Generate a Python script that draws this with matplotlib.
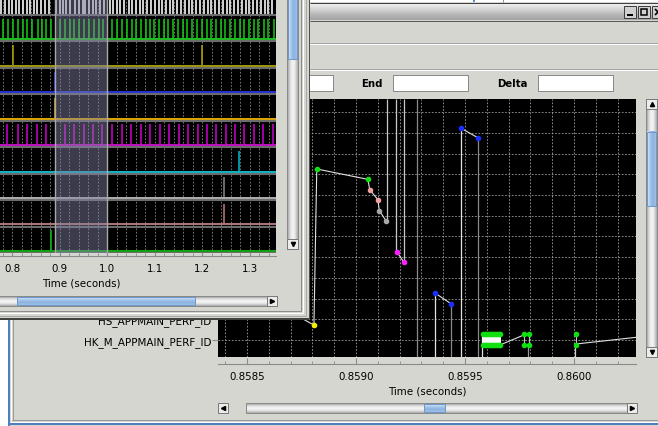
#!/usr/bin/env python3
import numpy as np
import matplotlib
matplotlib.use('Agg')
import matplotlib.pyplot as plt
from matplotlib.patches import Rectangle
from matplotlib.colors import LinearSegmentedColormap
from matplotlib.ticker import MultipleLocator, FixedLocator

W, H = 658, 427
GUI = '#d6d6d1'
GRID = '#a0a0a0'
PX = 0.72  # one pixel in points

# ---------------- back window data (zoomed, seconds) ----------------
back_rows = ['HK_M_APPMAIN_PERF_ID', 'HS_APPMAIN_PERF_ID',
             '', '', '', '', '', '', '', '', '', '']
back_major = [0.8585, 0.8590, 0.8595, 0.8600]

# entry/exit chain: time, level, marker colour
chain_t = [0.858700, 0.858807, 0.858820, 0.859054, 0.859063, 0.859100, 0.859107, 0.859138]
chain_y = [1.35, 0.72, 8.26, 7.76, 7.26, 6.78, 6.25, 5.75]
chain_c = ['none', '#f0f000', '#10e010', '#10e010', '#f0a0a0', '#f0a0a0', '#a8a8a8', '#a8a8a8']

mag_t = [0.859188, 0.859220]
mag_y = [4.25, 3.75]
blue1_t = [0.859362, 0.859436]
blue1_y = [2.27, 1.75]
blue2_t = [0.859480, 0.859560]
blue2_y = [10.24, 9.76]

# long vertical traces
up_t = [0.859140, 0.859183, 0.859222]
up_y = [5.75, 4.25, 3.75]
full_t = [0.859280]
down_t = [0.859362, 0.859436, 0.859482, 0.859560, 0.859578, 0.859789, 0.860005]
down_y = [2.27, 1.75, 10.24, 9.76, 0.27, -0.24, -0.24]
down_c = ['#e0e0e0', '#8a8a8a', '#e0e0e0', '#8a8a8a', '#e0e0e0', '#9a9a9a', '#d0d0d0']

# HK_M burst
burst_t = [0.859582, 0.859590, 0.859598, 0.859606, 0.859614, 0.859622,
           0.859630, 0.859638, 0.859646, 0.859654, 0.859662]
hk_t = [0.859771, 0.859792, 0.860011]
hk_hi, hk_lo = 0.27, -0.24
tail1_t = [0.859665, 0.859771]
tail1_y = [-0.22, 0.25]
tail2_t = [0.860011, 0.860284]
tail2_y = [-0.19, 0.13]

# ---------------- front window data (seconds) ----------------
front_major = [0.8, 0.9, 1.0, 1.1, 1.2, 1.3]
shade = (0.890, 1.000)
white_t = [0.777, 0.785, 0.793, 0.800, 0.807, 0.814, 0.823, 0.830, 0.838, 0.846,
           0.853, 0.861, 0.869, 0.877, 0.893, 0.901, 0.906, 0.914, 0.921, 0.931,
           0.940, 0.948, 0.953, 0.961, 0.970, 0.977, 0.985, 0.994, 1.005, 1.012,
           1.020, 1.027, 1.036, 1.045, 1.053, 1.060, 1.068, 1.076, 1.084, 1.092,
           1.100, 1.108, 1.116, 1.124, 1.131, 1.139, 1.147, 1.155, 1.163, 1.171,
           1.179, 1.187, 1.195, 1.203, 1.211, 1.219, 1.227, 1.235, 1.243, 1.251,
           1.259, 1.267, 1.275, 1.283, 1.291, 1.299, 1.307, 1.315, 1.323, 1.331,
           1.339, 1.347]
green_t = [0.781, 0.792, 0.802, 0.813, 0.822, 0.832, 0.842, 0.854, 0.862, 0.872,
           0.882, 0.901, 0.911, 0.921, 0.930, 0.940, 0.952, 0.961, 0.971, 0.982,
           0.990, 1.010, 1.020, 1.031, 1.041, 1.051, 1.060, 1.072, 1.082, 1.090,
           1.099, 1.109, 1.120, 1.128, 1.139, 1.149, 1.159, 1.168, 1.179, 1.189,
           1.199, 1.209, 1.218, 1.229, 1.239, 1.248, 1.259, 1.269, 1.279, 1.288,
           1.299, 1.309, 1.318, 1.329, 1.339, 1.350]
yellow_t = [0.802, 1.200]
blue_t = [0.890]
orange_t = [0.890]
magenta_t = [0.789, 0.811, 0.830, 0.853, 0.872, 0.910, 0.930, 0.950, 0.969, 0.988,
             1.009, 1.030, 1.050, 1.070, 1.089, 1.110, 1.130, 1.150, 1.169, 1.190,
             1.209, 1.229, 1.249, 1.269, 1.288, 1.309, 1.328, 1.348]
cyan_t = [1.277]
grey_t = [1.246]
pink_t = [1.246]
green2_t = [0.881]

front_rows = [white_t, green_t, yellow_t, blue_t, orange_t, magenta_t,
              cyan_t, grey_t, pink_t, green2_t]
spike_c = ['#e4e4e4', '#14cc14', '#b8a800', '#2a3cff', '#f0b000', '#d000d0',
           '#00c0d0', '#8a8a8a', '#c07c7c', '#10c010']
base_c = [None, '#20c020', '#a09a10', '#2434d8', '#e0a800', '#c010c0',
          '#10b8c8', '#b0b0b0', '#b07878', '#10a810']


fig = plt.figure(figsize=(W / 100, H / 100), dpi=100, facecolor=GUI)


def px_axes(l, t, w, h, z):
    return fig.add_axes([l / W, 1 - (t + h) / H, w / W, h / H], zorder=z)


def overlay(z):
    a = fig.add_axes([0, 0, 1, 1], zorder=z)
    a.set_xlim(0, W)
    a.set_ylim(H, 0)
    a.axis('off')
    return a


def rect(a, x, y, w, h, fc, ec='none', lw=0.0, z=1):
    a.add_patch(Rectangle((x, y), w, h, facecolor=fc, edgecolor=ec, linewidth=lw, zorder=z))


def grad(a, x0, x1, y0, y1, cols, vertical=True, z=1):
    cmap = LinearSegmentedColormap.from_list('g', cols)
    g = np.linspace(0, 1, 64)
    img = g[:, None] if vertical else g[None, :]
    a.imshow(img, cmap=cmap, extent=(x0, x1, y1, y0), aspect='auto',
             interpolation='bilinear', zorder=z)


def hline(a, x0, x1, y, c, lw=1, z=2):
    a.plot([x0, x1], [y, y], color=c, lw=lw * PX, zorder=z, solid_capstyle='butt')


def vline(a, x, y0, y1, c, lw=1, z=2):
    a.plot([x, x], [y0, y1], color=c, lw=lw * PX, zorder=z, solid_capstyle='butt')


TRACK = ['#8c8c8c', '#d8d8d8', '#f6f6f6', '#e6e6e6', '#a8a8a8']
THUMB = ['#dceaf8', '#a8c8ec', '#8cb2de', '#9cc0e6']


def button(a, x, y, w, h, mark):
    rect(a, x, y, w, h, '#ececea', '#7a7a7a', PX, z=3)
    a.plot(x + w / 2, y + h / 2, marker=mark, ms=3, color='black', zorder=4)


def hscroll(a, x0, x1, y0, y1, t0, t1):
    grad(a, x0, x1, y0, y1, TRACK, True, z=2)
    rect(a, x0, y0, x1 - x0, y1 - y0, 'none', '#8a8a8a', PX, z=3)
    grad(a, t0, t1, y0 + 1, y1 - 1, THUMB, True, z=3)
    rect(a, t0, y0 + 1, t1 - t0, y1 - y0 - 2, 'none', '#6e98c8', PX, z=3)
    button(a, x1 - 10, y0, 10, y1 - y0, '>')


def vscroll(a, x0, x1, y0, y1, t0, t1, top=True):
    grad(a, x0, x1, y0, y1, TRACK, False, z=2)
    rect(a, x0, y0, x1 - x0, y1 - y0, 'none', '#8a8a8a', PX, z=3)
    grad(a, x0 + 1, x1 - 1, t0, t1, THUMB, False, z=3)
    rect(a, x0 + 1, t0, x1 - x0 - 2, t1 - t0, 'none', '#6e98c8', PX, z=3)
    if top:
        button(a, x0, y0, x1 - x0, 10, '^')
    button(a, x0, y1 - 10, x1 - x0, 10, 'v')


# ---------------- back window chrome ----------------
bg = overlay(0)
rect(bg, 0, 319, 8, 108, 'white')
vline(bg, 8.5, 0, 427, '#4f7fbf', 2)
vline(bg, 10.5, 0, 422, 'white', 1)
vline(bg, 12.5, 0, 421, '#9a9a9a', 1)
hline(bg, 8, W, 424.5, '#4f7fbf', 2)
hline(bg, 10, W, 422.5, 'white', 1)
hline(bg, 12, W, 420.5, '#9a9a9a', 1)
rect(bg, 310, 0, 348, 3, 'white')
vline(bg, 474, 0, 3, '#5a8ad0', 2)
vline(bg, 503, 0, 3, '#909090', 1)
hline(bg, 310, W, 3.5, '#404040', 1)
grad(bg, 310, W, 4, 21, ['#f2f2f2', '#d8d8d8', '#b8b8b8', '#a4a4a4'], True, z=1)
hline(bg, 310, W, 21.5, '#5a5a5a', 1)
for bx, glyph in [(624, '_'), (638, 's'), (652, 'x')]:
    rect(bg, bx, 7, 12, 12, '#d0d0d0', '#404040', PX, z=3)
    if glyph == '_':
        hline(bg, bx + 3, bx + 9, 15.5, 'black', 2, z=4)
    elif glyph == 's':
        rect(bg, bx + 3, 10, 6, 6, 'none', 'black', 1.5 * PX, z=4)
    else:
        bg.plot(bx + 6, 13, marker='x', ms=4, color='black', mew=1.2, zorder=4)
hline(bg, 310, W, 43.5, '#a4a4a4', 1)
hline(bg, 310, W, 44.5, 'white', 1)
hline(bg, 310, W, 69.5, '#a4a4a4', 1)
hline(bg, 310, W, 70.5, 'white', 1)
for x0, x1 in [(300, 333), (393, 468), (538, 613)]:
    rect(bg, x0, 76, x1 - x0, 16, 'white', '#8a8a8a', PX, z=2)
bg.text(372, 84, 'End', fontsize=7.3, fontweight='bold', ha='center', va='center')
bg.text(512, 84, 'Delta', fontsize=7.3, fontweight='bold', ha='center', va='center')
vscroll(bg, 646, 657, 100, 358, 133, 207)
button(bg, 218, 404, 10, 10, '<')
hscroll(bg, 246, 637, 404, 414, 424, 445)

# ---------------- back plot ----------------
ax = px_axes(218, 100, 418, 258, 1)
ax.set_facecolor('black')
ax.set_xlim(0.858367, 0.860284)
ax.set_ylim(-0.82, 11.64)
for s in ['top', 'right', 'left']:
    ax.spines[s].set_visible(False)
ax.spines['bottom'].set_position(('outward', 5))
ax.spines['bottom'].set_color('#8a8a8a')
ax.xaxis.set_major_locator(FixedLocator(back_major))
ax.xaxis.set_minor_locator(MultipleLocator(0.0001))
ax.set_xticklabels(['%.4f' % v for v in back_major])
ax.tick_params(axis='x', which='major', direction='in', length=4, color='#8a8a8a',
               labelsize=7.4, pad=5)
ax.tick_params(axis='x', which='minor', direction='in', length=2, color='#8a8a8a')
ax.set_yticks(range(len(back_rows)))
ax.set_yticklabels(back_rows)
ax.tick_params(axis='y', length=4, color='#8a8a8a', labelsize=7.5, pad=1)
ax.set_xlabel('Time (seconds)', fontsize=7.4, labelpad=3)
ax.grid(True, which='both', axis='x', color=GRID, lw=0.6, ls=(0, (2, 2)))
ax.grid(True, which='major', axis='y', color=GRID, lw=0.6, ls=(0, (2, 2)))
ax.set_axisbelow(True)

ax.vlines(up_t, up_y, 11.64, color='#c8c8c8', lw=0.9)
ax.vlines(full_t, -0.82, 11.64, color='#8a8a8a', lw=0.9)
ax.vlines(down_t, -0.82, down_y, colors=down_c, lw=0.9)
ax.plot(chain_t, chain_y, color='#e0e0e0', lw=0.8)
for t, y, c in zip(chain_t, chain_y, chain_c):
    if c != 'none':
        ax.plot(t, y, 'o', color=c, ms=3.0, zorder=4)
for ts, ys, c in [(mag_t, mag_y, '#ff20ff'), (blue1_t, blue1_y, '#1830ff'),
                  (blue2_t, blue2_y, '#1830ff')]:
    ax.plot(ts, ys, color='#e0e0e0', lw=0.8)
    ax.plot(ts, ys, 'o', color=c, ms=3.0, zorder=4)
ax.vlines(burst_t, hk_lo, hk_hi, color='white', lw=1.4, zorder=3)
ax.plot(burst_t, [hk_hi] * len(burst_t), 'o', color='#10e010', ms=3.0, zorder=4)
ax.plot(burst_t, [hk_lo] * len(burst_t), 'o', color='#10e010', ms=3.0, zorder=4)
ax.vlines(hk_t, hk_lo, hk_hi, color='#c8c8c8', lw=0.8, zorder=3)
ax.plot(hk_t, [hk_hi] * len(hk_t), 'o', color='#10e010', ms=3.0, zorder=4)
ax.plot(hk_t, [hk_lo] * len(hk_t), 'o', color='#10e010', ms=3.0, zorder=4)
ax.plot(tail1_t, tail1_y, color='#e0e0e0', lw=0.8)
ax.plot(tail2_t, tail2_y, color='#e0e0e0', lw=0.8)

# ---------------- front window chrome ----------------
fg = overlay(2)
rect(fg, -5, -5, 314, 326, GUI, z=1)
vline(fg, 300.5, -5, 312, '#8c8c8c', 1)
vline(fg, 302.5, -5, 314, 'white', 1)
vline(fg, 305.5, -5, 317, '#a8a8a8', 1)
vline(fg, 308.5, -5, 320, '#505050', 1)
hline(fg, -5, 301, 311.5, '#8c8c8c', 1)
hline(fg, -5, 303, 313.5, 'white', 1)
hline(fg, -5, 306, 316.5, '#a8a8a8', 1)
hline(fg, -5, 309, 320.0, '#101010', 1.5)
vscroll(fg, 287, 298, -5, 250, -5, 60, top=False)
hscroll(fg, -5, 277, 297, 307, 17, 195)

# ---------------- front plot ----------------
fx = px_axes(-114, 0, 390, 254, 3)
fx.set_facecolor('black')
fx.set_xlim(0.5341, 1.3552)
fx.set_ylim(9.0, -0.606)
for s in ['top', 'right', 'left']:
    fx.spines[s].set_visible(False)
fx.spines['bottom'].set_position(('outward', 2.5))
fx.spines['bottom'].set_color('#8a8a8a')
fx.xaxis.set_major_locator(FixedLocator(front_major))
fx.xaxis.set_minor_locator(MultipleLocator(0.02))
fx.set_xticklabels(['%.1f' % v for v in front_major])
fx.tick_params(axis='x', which='major', direction='in', length=4, color='#8a8a8a',
               labelsize=7.4, pad=5)
fx.tick_params(axis='x', which='minor', direction='in', length=2, color='#8a8a8a')
fx.set_yticks([])
fx.set_xlabel('Time (seconds)', fontsize=7.4, labelpad=3)
fx.grid(True, which='both', axis='x', color='#8a8a8a', lw=0.6, ls=(0, (2, 2)))
fx.set_axisbelow(True)

for k, (ts, sc, bc) in enumerate(zip(front_rows, spike_c, base_c)):
    if k == 0:
        fx.vlines(ts, -0.04, -0.606, color=sc, lw=1.3)
    else:
        fx.vlines(ts, k - 0.09, k - 1 + 0.14, color=sc, lw=1.1)
        fx.axhline(k - 0.08, color=bc, lw=1.4)
    fx.axhline(k, color='#6c6c6c', lw=1.5)
fx.axvspan(shade[0], shade[1], color='#8484a8', alpha=0.45, lw=0, zorder=5)
for v in shade:
    fx.axvline(v, color='#a8a8a8', lw=1.0, zorder=5)

fig.savefig('out.png', dpi=100, facecolor=GUI)
